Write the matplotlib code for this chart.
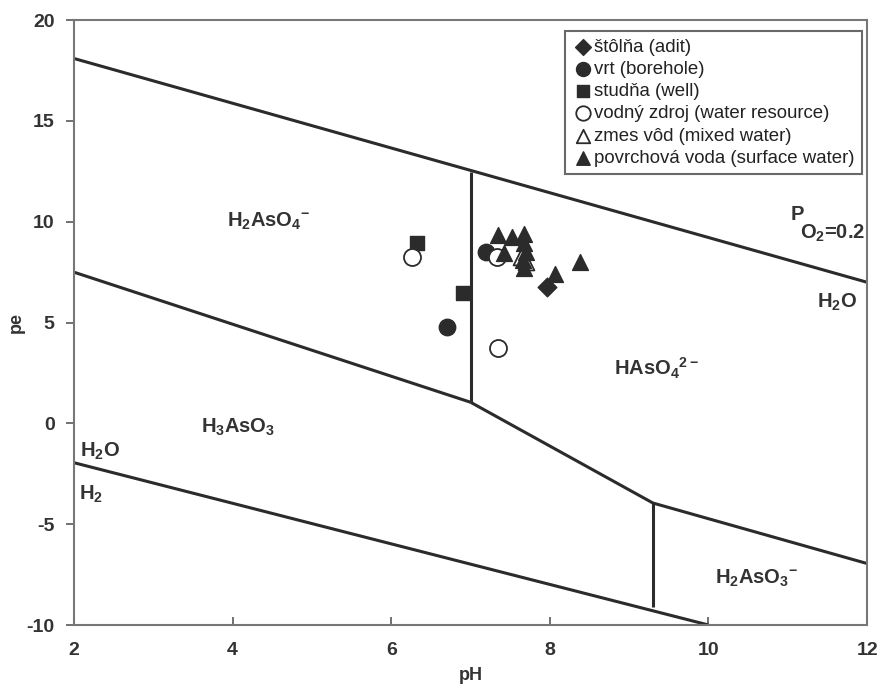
import matplotlib
matplotlib.use("Agg")
import matplotlib.pyplot as plt

plt.rcParams['font.family'] = ['Liberation Sans', 'DejaVu Sans']
plt.rcParams['axes.unicode_minus'] = False
plt.rcParams['mathtext.fontset'] = 'custom'
plt.rcParams['mathtext.rm'] = 'Liberation Sans:bold'
plt.rcParams['mathtext.bf'] = 'Liberation Sans:bold'
plt.rcParams['mathtext.default'] = 'rm'

# boundary lines (pH, pe)
o2_line = ([2, 12], [18.1, 7.0])
h2_line = ([2, 10], [-1.95, -10])
h2aso4_h3aso3 = ([2, 7.0], [7.5, 1.05])
h2aso4_haso4 = ([7.0, 7.0], [1.05, 12.45])
h3aso3_haso4 = ([7.0, 9.3, 12], [1.05, -3.95, -6.95])
h3aso3_h2aso3 = ([9.3, 9.3], [-3.95, -9.1])

# samples
adit_ph = [7.96]
adit_pe = [6.75]
bore_ph = [6.70, 7.20]
bore_pe = [4.80, 8.50]
well_ph = [6.32, 6.90]
well_pe = [8.93, 6.48]
res_ph = [6.26, 7.34, 7.33]
res_pe = [8.27, 3.72, 8.27]
mix_ph = [7.64, 7.70]
mix_pe = [8.25, 8.00]
surf_ph = [7.34, 7.52, 7.67, 7.42, 7.68, 7.70, 7.66, 7.68, 8.38, 8.07]
surf_pe = [9.34, 9.26, 9.39, 8.45, 8.94, 8.50, 8.10, 7.70, 8.02, 7.41]

fig = plt.figure(figsize=(8.83, 6.96), dpi=100)
ax = fig.add_axes([0.0838, 0.102, 0.8982, 0.869])

lc = '#2b2b2b'
for xs, ys in [o2_line, h2_line, h2aso4_h3aso3, h2aso4_haso4, h3aso3_haso4, h3aso3_h2aso3]:
    ax.plot(xs, ys, color=lc, lw=2.2, solid_capstyle='butt')

mc = '#2b2b2b'
ax.scatter(adit_ph, adit_pe, marker='D', s=90, color=mc, label='štôlňa (adit)', zorder=3)
ax.scatter(bore_ph, bore_pe, marker='o', s=140, color=mc, label='vrt (borehole)', zorder=3)
ax.scatter(well_ph, well_pe, marker='s', s=110, color=mc, label='studňa (well)', zorder=3)
ax.scatter(res_ph, res_pe, marker='o', s=150, facecolor='white', edgecolor=mc, lw=1.3,
           label='vodný zdroj (water resource)', zorder=3)
ax.scatter(mix_ph, mix_pe, marker='^', s=130, facecolor='white', edgecolor=mc, lw=1.3,
           label='zmes vôd (mixed water)', zorder=3)
ax.scatter(surf_ph, surf_pe, marker='^', s=130, color=mc, label='povrchová voda (surface water)', zorder=4)

leg = ax.legend(loc='upper right', bbox_to_anchor=(0.9985, 0.988), frameon=True, fancybox=False,
                edgecolor='#444444', fontsize=13.4, handletextpad=0.05, labelspacing=0.28,
                borderpad=0.4, handlelength=1.1, markerscale=0.85, borderaxespad=0.2)
leg.get_frame().set_linewidth(1.5)
for t in leg.get_texts():
    t.set_color('#222222')

tc = '#333333'
kw = dict(fontsize=14.5, color=tc, ha='center', va='center')
ax.text(4.45, 10.0, r'H$_2$AsO$_4$$^{-}$', fontweight='bold', **kw)
ax.text(4.07, -0.2, r'H$_3$AsO$_3$', fontweight='bold', **kw)
ax.text(2.33, -1.4, r'H$_2$O', fontweight='bold', **kw)
ax.text(2.22, -3.5, r'H$_2$', fontweight='bold', **kw)
ax.text(9.35, 2.75, r'HAsO$_4$$^{2-}$', fontweight='bold', **kw)
ax.text(11.62, 6.02, r'H$_2$O', fontweight='bold', **kw)
ax.text(11.12, 10.35, 'P', fontweight='bold', **kw)
ax.text(11.56, 9.42, r'O$_2$=0.2', fontweight='bold', **kw)
ax.text(10.6, -7.7, r'H$_2$AsO$_3$$^{-}$', fontweight='bold', **kw)

ax.set_xlim(2, 12)
ax.set_ylim(-10, 20)
ax.set_xticks([2, 4, 6, 8, 10, 12])
ax.set_yticks([-10, -5, 0, 5, 10, 15, 20])
ax.tick_params(axis='x', direction='in', length=6, width=1.3, colors='#666666', pad=12,
               labelsize=14, labelcolor=tc)
ax.tick_params(axis='y', direction='out', length=6, width=1.3, colors='#666666', pad=8,
               labelsize=14, labelcolor=tc)
for lab in ax.get_xticklabels() + ax.get_yticklabels():
    lab.set_fontweight('bold')
for sp in ax.spines.values():
    sp.set_color('#777777')
    sp.set_linewidth(1.5)

ax.set_xlabel('pH', fontsize=13, fontweight='bold', color=tc, labelpad=6)
ax.set_ylabel('pe', fontsize=13, fontweight='bold', color=tc)
ax.yaxis.set_label_coords(-0.062, 0.5)

fig.savefig('out.png', dpi=100)
